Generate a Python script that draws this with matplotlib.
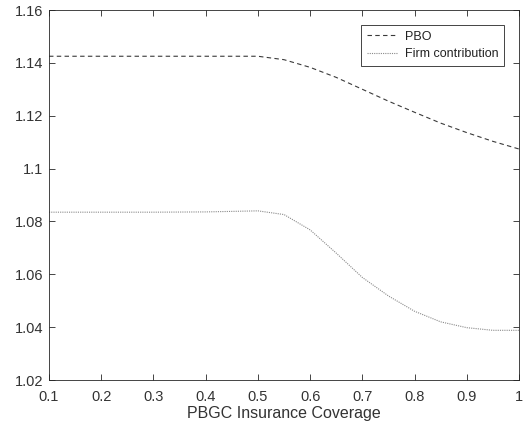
import matplotlib

matplotlib.use("Agg")
import matplotlib.pyplot as plt

plt.rcParams["font.family"] = ["Liberation Sans", "DejaVu Sans"]

coverage = [0.1, 0.2, 0.3, 0.4, 0.5, 0.55, 0.6, 0.65, 0.7, 0.75, 0.8, 0.85, 0.9, 0.95, 1.0]
pbo = [1.1425, 1.1425, 1.1425, 1.1425, 1.1425, 1.1412, 1.1383, 1.1345, 1.1300,
       1.1255, 1.1213, 1.1172, 1.1136, 1.1103, 1.1074]
firm = [1.0835, 1.0835, 1.0835, 1.0836, 1.0840, 1.0826, 1.0768, 1.0680, 1.0588,
        1.0518, 1.0460, 1.0420, 1.0398, 1.0388, 1.0388]

AXIS_COLOR = "#262626"
TEXT_COLOR = "#333333"

fig = plt.figure(figsize=(5.23, 4.33), dpi=100)
ax = fig.add_axes([0.0937, 0.1224, 0.8987, 0.8545])

ax.plot(coverage, pbo, linestyle=(0, (4, 3)), color="#3a3a3a", linewidth=0.8, label="PBO")
ax.plot(coverage, firm, linestyle=(0, (1, 1)), color="#8a8a8a", linewidth=0.8,
        label="Firm contribution")

ax.set_xlim(0.1, 1.0)
ax.set_ylim(1.02, 1.16)
ax.set_xticks([0.1, 0.2, 0.3, 0.4, 0.5, 0.6, 0.7, 0.8, 0.9, 1.0])
ax.set_xticklabels(["0.1", "0.2", "0.3", "0.4", "0.5", "0.6", "0.7", "0.8", "0.9", "1"])
ax.set_yticks([1.02, 1.04, 1.06, 1.08, 1.1, 1.12, 1.14, 1.16])
ax.set_yticklabels(["1.02", "1.04", "1.06", "1.08", "1.1", "1.12", "1.14", "1.16"])
ax.tick_params(direction="in", top=True, right=True, length=4, width=0.6,
               color=AXIS_COLOR, labelcolor=TEXT_COLOR, labelsize=10.5)
ax.tick_params(axis="x", pad=7)
ax.tick_params(axis="y", pad=4)
for spine in ax.spines.values():
    spine.set_color(AXIS_COLOR)
    spine.set_linewidth(0.6)

ax.set_xlabel("PBGC Insurance Coverage", fontsize=11.5, color=TEXT_COLOR, labelpad=1.5)

leg = ax.legend(loc="upper right", fontsize=9, fancybox=False, framealpha=1,
                borderpad=0.45, handlelength=2.5, handletextpad=0.5,
                labelspacing=0.45, bbox_to_anchor=(0.981, 0.976))
leg.get_frame().set_edgecolor(AXIS_COLOR)
leg.get_frame().set_linewidth(0.6)
for t in leg.get_texts():
    t.set_color("#222222")

fig.savefig("out.png", dpi=100)
